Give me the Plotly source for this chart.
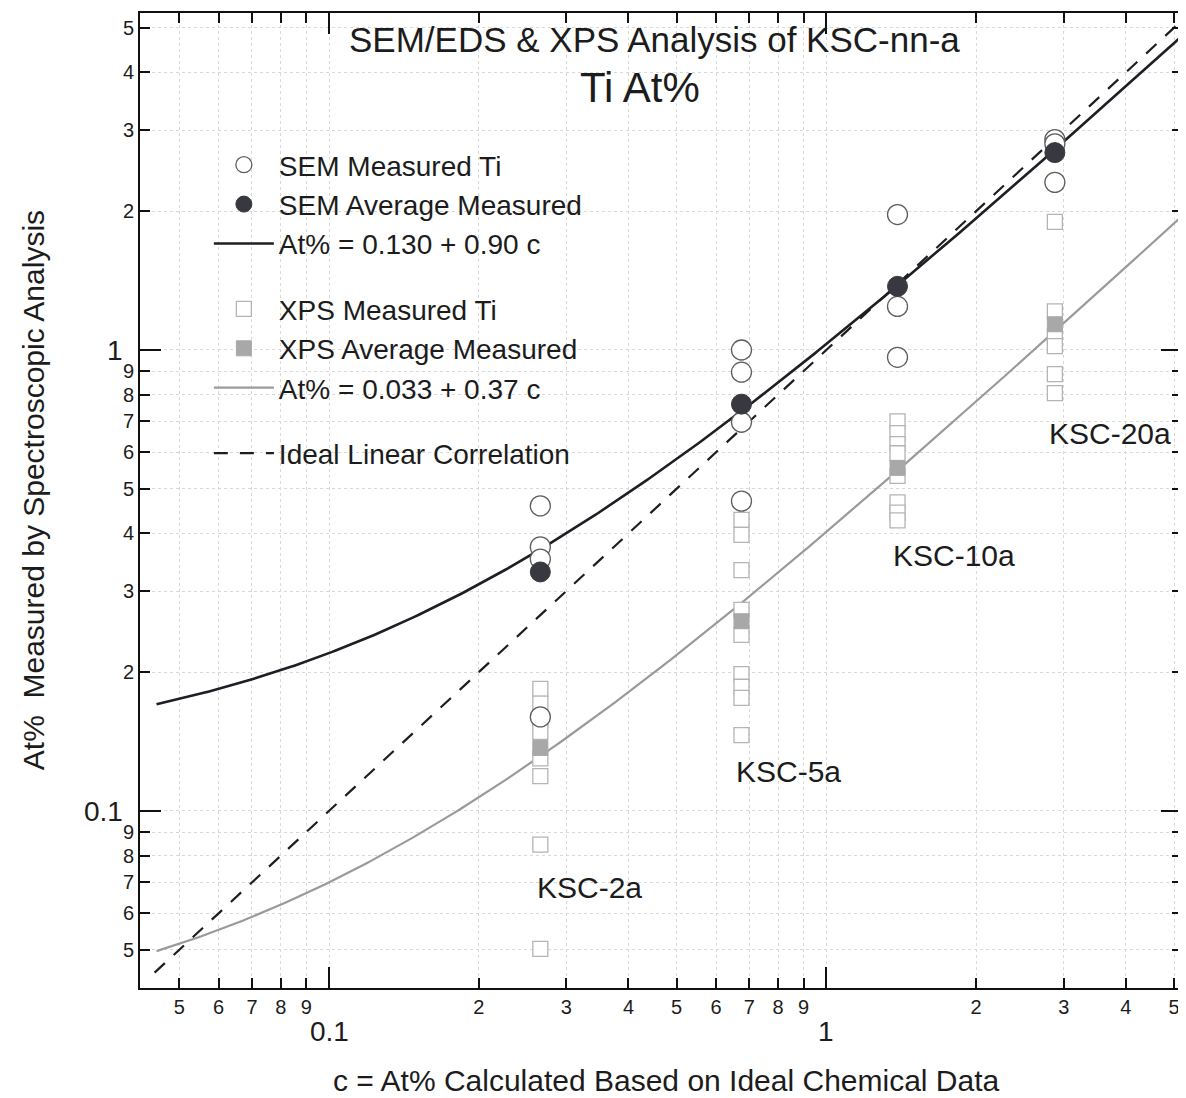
import numpy as np
import plotly.graph_objects as go

# ---------------- data ----------------
c_samples = [0.266, 0.675, 1.39, 2.88]
sample_names = ["KSC-2a", "KSC-5a", "KSC-10a", "KSC-20a"]

sem_measured = [
    [0.459, 0.374, 0.352, 0.160],
    [1.00, 0.895, 0.697, 0.470],
    [1.967, 1.243, 0.964],
    [2.86, 2.80, 2.31],
]
sem_average = [0.330, 0.763, 1.374, 2.68]

xps_measured = [
    [0.184, 0.171, 0.158, 0.1485, 0.130, 0.119, 0.0845, 0.0502],
    [0.428, 0.397, 0.333, 0.273, 0.241, 0.198, 0.186, 0.176, 0.146],
    [0.70, 0.66, 0.625, 0.597, 0.533, 0.467, 0.444, 0.427],
    [1.896, 1.213, 1.071, 1.019, 0.886, 0.806],
]
xps_average = [0.137, 0.258, 0.555, 1.137]

sem_fit_intercept, sem_fit_slope = 0.130, 0.90
xps_fit_intercept, xps_fit_slope = 0.033, 0.37
fit_c_limits = [0.045, 5.3]
ideal_c = [0.0446, 5.3]

x_tick_vals = [0.05, 0.06, 0.07, 0.08, 0.09, 0.2, 0.3, 0.4, 0.5, 0.6, 0.7, 0.8, 0.9, 2, 3, 4, 5]
x_tick_text = ["5", "6", "7", "8", "9", "2", "3", "4", "5", "6", "7", "8", "9", "2", "3", "4", "5"]
y_tick_vals = [0.05, 0.06, 0.07, 0.08, 0.09, 0.2, 0.3, 0.4, 0.5, 0.6, 0.7, 0.8, 0.9, 2, 3, 4, 5]
y_tick_text = ["5", "6", "7", "8", "9", "2", "3", "4", "5", "6", "7", "8", "9", "2", "3", "4", "5"]
decade_vals = [0.1, 1]
decade_text = ["0.1", "1"]

FONT = "Liberation Sans, Arial, sans-serif"
TXT = "#1c1c1c"

# ---------------- figure ----------------
fig = go.Figure()

c_fit = np.geomspace(fit_c_limits[0], fit_c_limits[1], 300)

fig.add_trace(go.Scatter(
    x=c_fit, y=sem_fit_intercept + sem_fit_slope * c_fit, mode="lines",
    line=dict(color="#1e1e24", width=2.6),
    name="At% = 0.130 + 0.90 c", legendgroup="sem", legendrank=3))
fig.add_trace(go.Scatter(
    x=c_fit, y=xps_fit_intercept + xps_fit_slope * c_fit, mode="lines",
    line=dict(color="#9a9a9a", width=2.2),
    name="At% = 0.033 + 0.37 c", legendgroup="xps", legendrank=6))
fig.add_trace(go.Scatter(
    x=ideal_c, y=ideal_c, mode="lines",
    line=dict(color="#1e1e1e", width=2.2, dash="14px,12px"),
    name="Ideal Linear Correlation", legendgroup="ideal", legendrank=7))

xm, ym = [], []
for c, vals in zip(c_samples, xps_measured):
    xm += [c] * len(vals)
    ym += vals
fig.add_trace(go.Scatter(
    x=xm, y=ym, mode="markers",
    marker=dict(symbol="square", size=15, color="white", line=dict(color="#b4b4b4", width=1.3)),
    name="XPS Measured Ti", legendgroup="xps", legendrank=4))
fig.add_trace(go.Scatter(
    x=c_samples, y=xps_average, mode="markers",
    marker=dict(symbol="square", size=15, color="#a8a8a8", line=dict(color="#a8a8a8", width=1)),
    name="XPS Average Measured", legendgroup="xps", legendrank=5))

xs, ys = [], []
for c, vals in zip(c_samples, sem_measured):
    xs += [c] * len(vals)
    ys += vals
fig.add_trace(go.Scatter(
    x=xs, y=ys, mode="markers",
    marker=dict(symbol="circle", size=20, color="white", line=dict(color="#5e5e5e", width=1.3)),
    name="SEM Measured Ti", legendgroup="sem", legendrank=1))
fig.add_trace(go.Scatter(
    x=c_samples, y=sem_average, mode="markers",
    marker=dict(symbol="circle", size=20, color="#383840", line=dict(color="#383840", width=1)),
    name="SEM Average Measured", legendgroup="sem", legendrank=2))

# plot area in screen pixels (page body adds an 8 px offset)
OFF = 8
SX0, SX1 = 140, 1184
SY0, SY1 = 13, 988
FIG_W, FIG_H = 1178, 1090


def px(x):
    return (x - SX0) / (SX1 - SX0)


def py(y):
    return (SY1 - y) / (SY1 - SY0)


def ann(text, x, y, size, xref="paper", yref="paper", **kw):
    d = dict(text=text, x=x, y=y, xref=xref, yref=yref, showarrow=False,
             xanchor="center", yanchor="middle",
             font=dict(size=size, family=FONT, color=TXT))
    d.update(kw)
    return d


annotations = []
annotations.append(ann("SEM/EDS &amp; XPS Analysis of KSC-nn-a", px(655), py(40), 35))
annotations.append(ann("Ti At%", px(641), py(88), 42))
label_pos = [(590, 887), (790, 771), (956, 556), (1112, 433)]
for name, (lx, ly) in zip(sample_names, label_pos):
    annotations.append(ann(name, px(lx), py(ly), 30))
for v, t in zip(decade_vals, decade_text):
    annotations.append(ann(t, np.log10(v), py(1031), 28, xref="x"))
for v, t in zip(decade_vals, decade_text):
    annotations.append(ann(t, px(125), np.log10(v), 28, yref="y", xanchor="right", yshift=-1))
annotations.append(ann("c = At% Calculated Based on Ideal Chemical Data", px(668), py(1080), 30))
annotations.append(ann("At%\u00a0\u00a0Measured by Spectroscopic Analysis", px(33), py(490), 30,
                       textangle=-90))

axis_common = dict(
    type="log", showline=True, linecolor="#111", linewidth=2, mirror="ticks",
    ticks="inside", ticklen=10, tickwidth=1.6, tickcolor="#111",
    showgrid=True, gridcolor="#d9d9d9", gridwidth=1, griddash="dot",
    zeroline=False, tickmode="array",
    minor=dict(tickmode="array", tickvals=decade_vals, ticks="inside", ticklen=21,
               tickwidth=1.8, tickcolor="#111", showgrid=True, gridcolor="#d9d9d9",
               griddash="dot", gridwidth=1),
)

fig.update_layout(
    width=FIG_W, height=FIG_H,
    margin=dict(l=SX0 - OFF, r=FIG_W - (SX1 - OFF), t=SY0 - OFF, b=FIG_H - (SY1 - OFF)),
    paper_bgcolor="white", plot_bgcolor="white",
    font=dict(family=FONT, color=TXT),
    xaxis=dict(range=[-1.38, 0.715], tickvals=x_tick_vals, ticktext=x_tick_text,
               tickfont=dict(size=20, family=FONT, color=TXT), **axis_common),
    yaxis=dict(range=[-1.384, 0.731], tickvals=y_tick_vals, ticktext=y_tick_text,
               tickfont=dict(size=20, family=FONT, color=TXT), **axis_common),
    legend=dict(x=px(209), y=py(140), xanchor="left", yanchor="top",
                font=dict(size=28, family=FONT, color=TXT), bgcolor="rgba(0,0,0,0)",
                traceorder="grouped", tracegroupgap=26, itemwidth=60),
    annotations=annotations,
    showlegend=True,
)

fig.write_html("out.html")
